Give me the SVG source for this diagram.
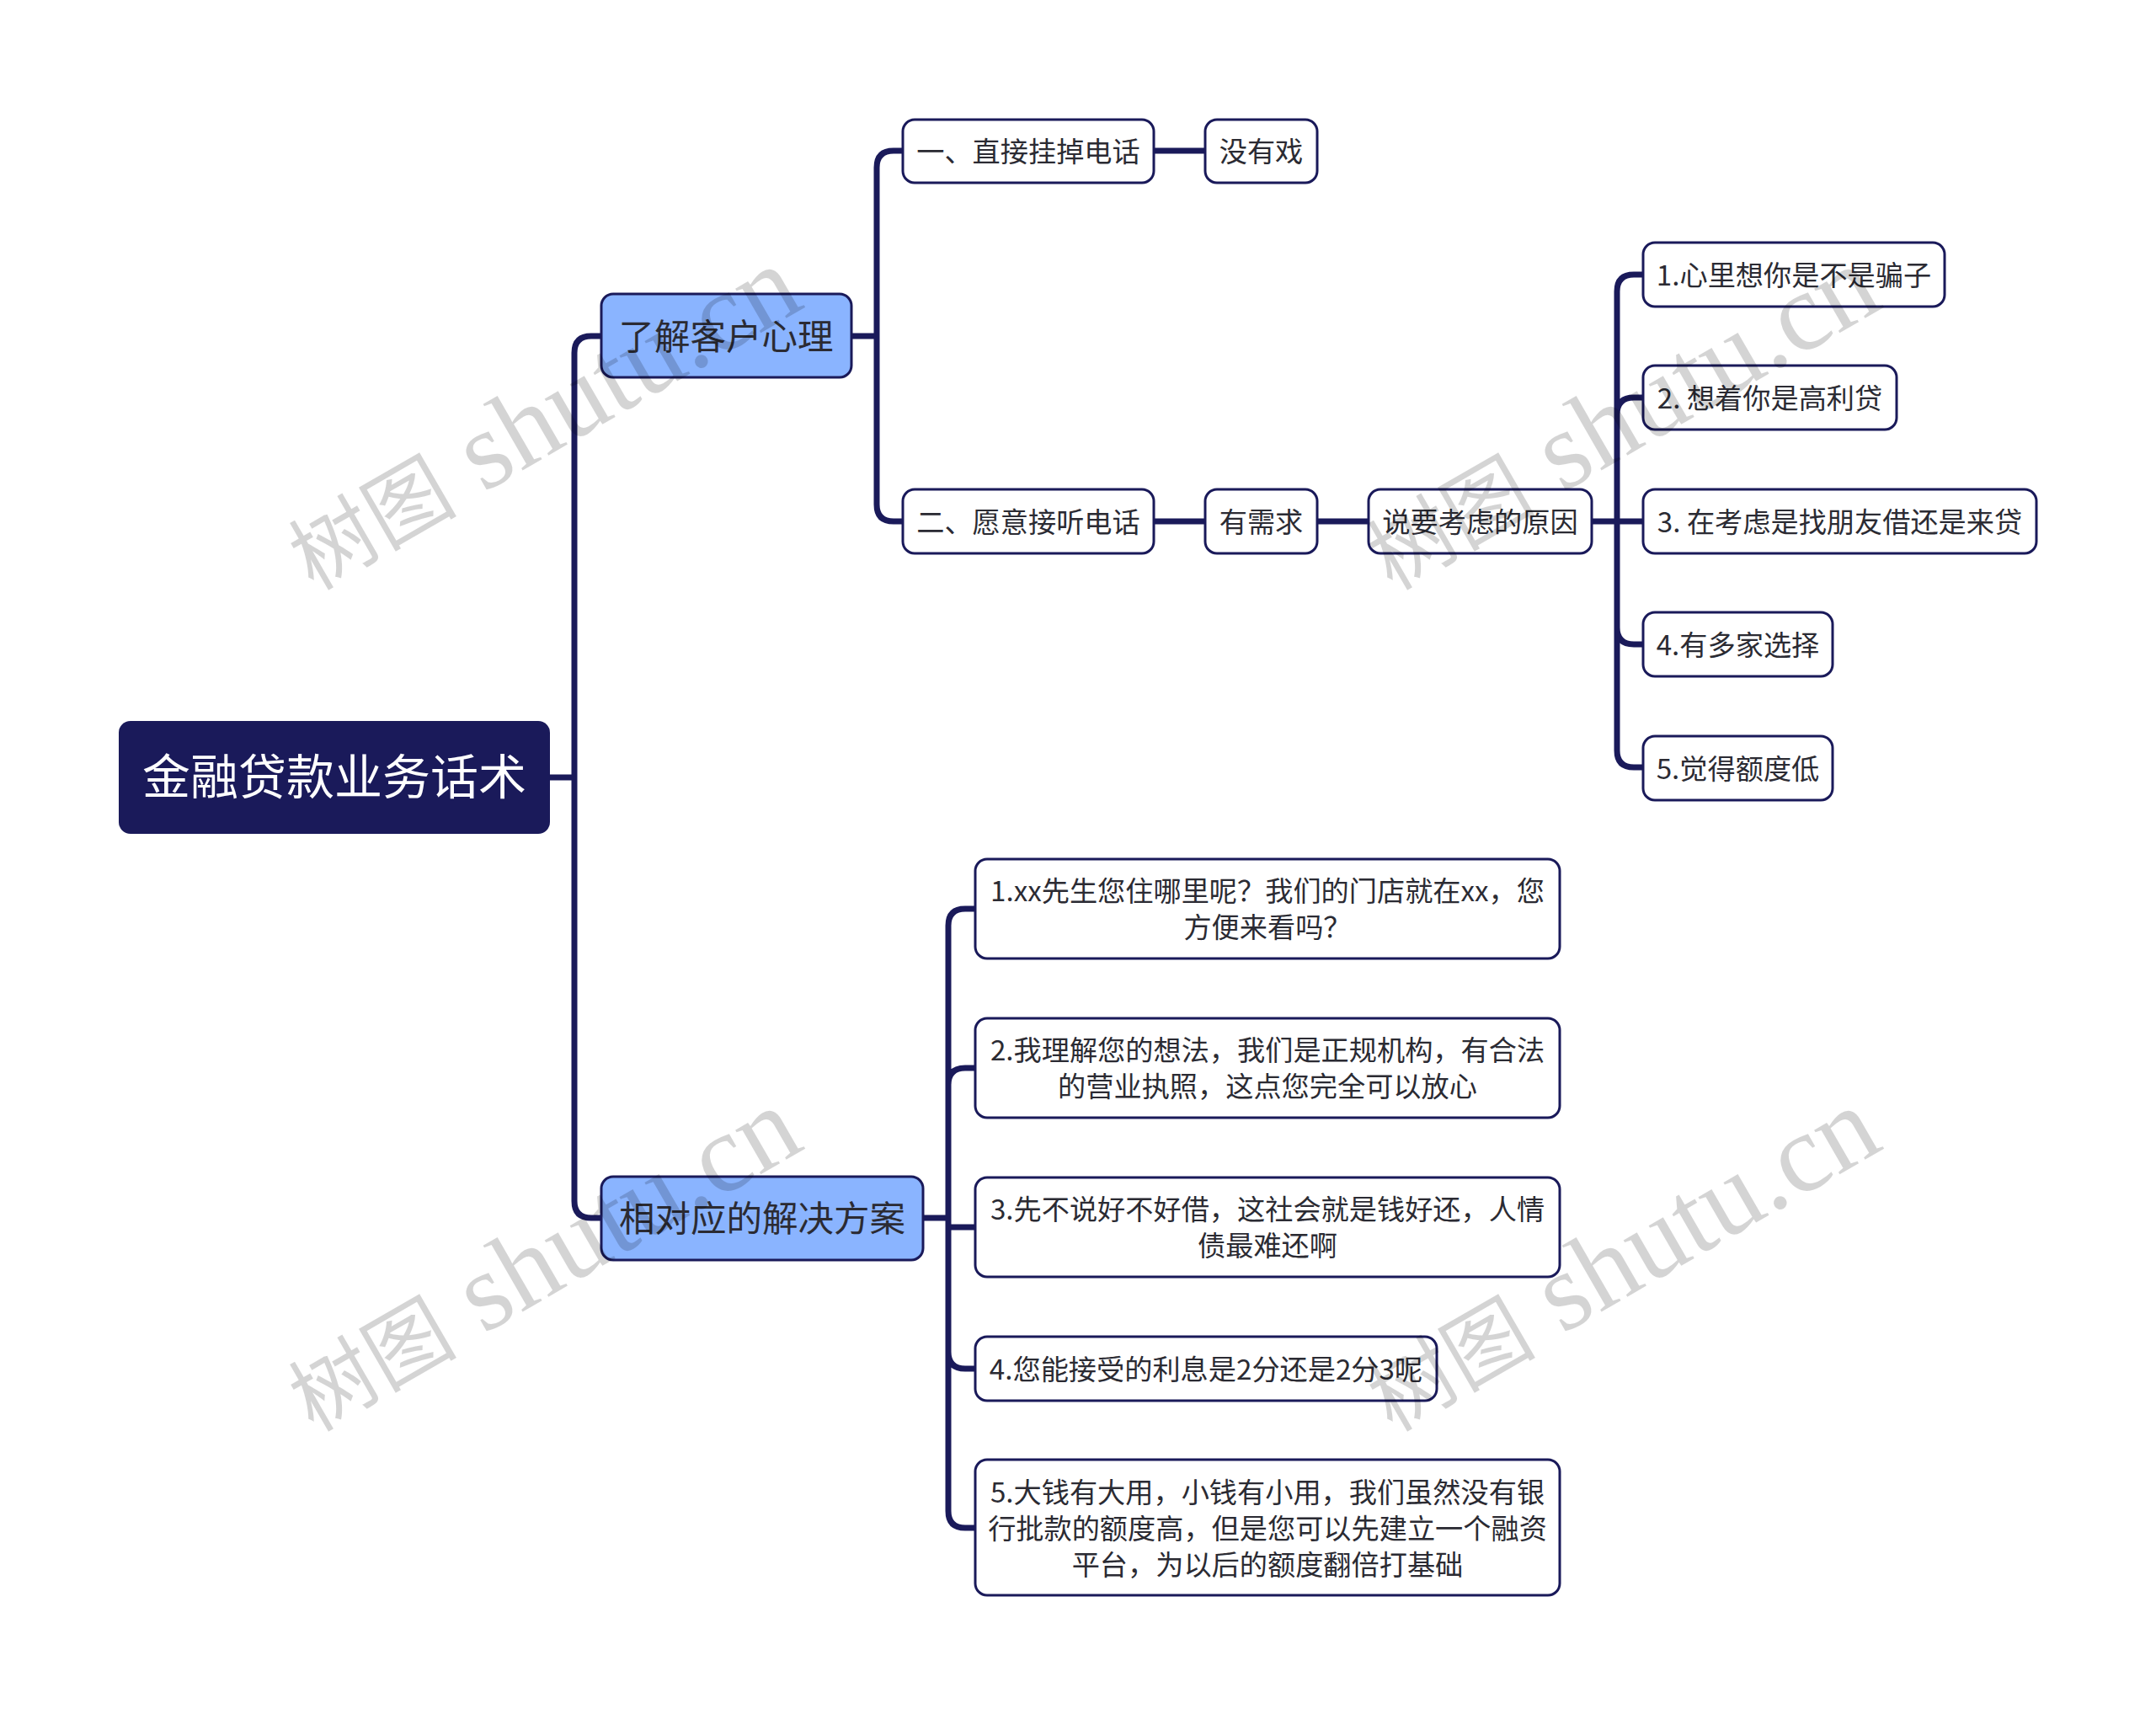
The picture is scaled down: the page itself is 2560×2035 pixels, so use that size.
<svg xmlns="http://www.w3.org/2000/svg" width="2560" height="2035" viewBox="0 0 2560 2035">
<style>
text{font-family:"Noto Sans CJK SC","Liberation Sans",sans-serif;text-anchor:middle;fill:#2b2b33;font-weight:400}
.n rect{fill:#fff;stroke:#1a1a5a;stroke-width:3}
.n text{font-size:33.2px}
.m rect{fill:#8ab4ff;stroke:#1a1a5a;stroke-width:3}
.m text{font-size:42.5px}
.c{fill:none;stroke:#1a1a5a;stroke-width:7}
.w text{font-family:"Liberation Serif","Noto Sans CJK SC",serif;font-size:132px;fill:#000;fill-opacity:.17;text-anchor:start;font-weight:400}
.w .z{font-family:"Noto Sans CJK SC",serif;font-size:100px;font-weight:400}
</style>
<rect width="2560" height="2035" fill="#fff"/>
<g id="connectors">
<path class="c" d="M653 923H682M714 399H702Q682 399 682 419V1426Q682 1446 702 1446H714"/>
<path class="c" d="M1011 399H1041M1072 179H1061Q1041 179 1041 199V599Q1041 619 1061 619H1072"/>
<path class="c" d="M1370 179H1431M1370 619H1431M1564 619H1625M1890 619H1951"/>
<path class="c" d="M1951 326H1940Q1920 326 1920 346V891Q1920 911 1940 911H1951M1951 472H1940Q1920 472 1920 492M1920 745Q1920 765 1940 765H1951"/>
<path class="c" d="M1096 1446H1126M1158 1079H1146Q1126 1079 1126 1099V1794Q1126 1814 1146 1814H1158M1158 1268H1146Q1126 1268 1126 1288M1126 1457H1158M1126 1605Q1126 1625 1146 1625H1158"/>
</g>
<g id="root"><rect x="141" y="856" width="512" height="134" rx="14" fill="#1a1a5a"/><text x="397" y="943" font-size="57" style="fill:#fff">金融贷款业务话术</text></g>
<g id="a" class="m"><rect x="714" y="349" width="297" height="99" rx="14"/><text x="862" y="415">了解客户心理</text></g>
<g id="b" class="m"><rect x="714" y="1397" width="382" height="99" rx="14"/><text x="905" y="1462">相对应的解决方案</text></g>
<g id="n1" class="n"><rect x="1072" y="142" width="298" height="75" rx="14"/><text x="1221" y="192">一、直接挂掉电话</text></g>
<g id="n2" class="n"><rect x="1431" y="142" width="133" height="75" rx="14"/><text x="1497.5" y="192">没有戏</text></g>
<g id="n3" class="n"><rect x="1072" y="581" width="298" height="76" rx="14"/><text x="1221" y="632">二、愿意接听电话</text></g>
<g id="n4" class="n"><rect x="1431" y="581" width="133" height="76" rx="14"/><text x="1497.5" y="632">有需求</text></g>
<g id="n5" class="n"><rect x="1625" y="581" width="265" height="76" rx="14"/><text x="1757.5" y="632">说要考虑的原因</text></g>
<g id="r1" class="n"><rect x="1951" y="288" width="358" height="76" rx="14"/><text x="2130" y="339">1.心里想你是不是骗子</text></g>
<g id="r2" class="n"><rect x="1951" y="434" width="301" height="76" rx="14"/><text x="2101.5" y="485">2. 想着你是高利贷</text></g>
<g id="r3" class="n"><rect x="1951" y="581" width="467" height="76" rx="14"/><text x="2184.5" y="632">3. 在考虑是找朋友借还是来贷</text></g>
<g id="r4" class="n"><rect x="1951" y="727" width="225" height="76" rx="14"/><text x="2063.5" y="778">4.有多家选择</text></g>
<g id="r5" class="n"><rect x="1951" y="874" width="225" height="76" rx="14"/><text x="2063.5" y="925">5.觉得额度低</text></g>
<g id="s1" class="n"><rect x="1158" y="1020" width="694" height="118" rx="14"/><text x="1505" y="1070">1.xx先生您住哪里呢？我们的门店就在xx，您</text><text x="1505" y="1113">方便来看吗？</text></g>
<g id="s2" class="n"><rect x="1158" y="1209" width="694" height="118" rx="14"/><text x="1505" y="1259">2.我理解您的想法，我们是正规机构，有合法</text><text x="1505" y="1302">的营业执照，这点您完全可以放心</text></g>
<g id="s3" class="n"><rect x="1158" y="1398" width="694" height="118" rx="14"/><text x="1505" y="1448">3.先不说好不好借，这社会就是钱好还，人情</text><text x="1505" y="1491">债最难还啊</text></g>
<g id="s4" class="n"><rect x="1158" y="1587" width="548" height="76" rx="14"/><text x="1432" y="1638">4.您能接受的利息是2分还是2分3呢</text></g>
<g id="s5" class="n"><rect x="1158" y="1733" width="694" height="161" rx="14"/><text x="1505" y="1783.5">5.大钱有大用，小钱有小用，我们虽然没有银</text><text x="1505" y="1826.5">行批款的额度高，但是您可以先建立一个融资</text><text x="1505" y="1869.5">平台，为以后的额度翻倍打基础</text></g>
<g class="w">
<text transform="translate(372 702) rotate(-30)"><tspan class="z">树图</tspan> shutu.cn</text>
<text transform="translate(372 1701) rotate(-30)"><tspan class="z">树图</tspan> shutu.cn</text>
<text transform="translate(1653 702) rotate(-30)"><tspan class="z">树图</tspan> shutu.cn</text>
<text transform="translate(1653 1701) rotate(-30)"><tspan class="z">树图</tspan> shutu.cn</text>
</g>
</svg>
